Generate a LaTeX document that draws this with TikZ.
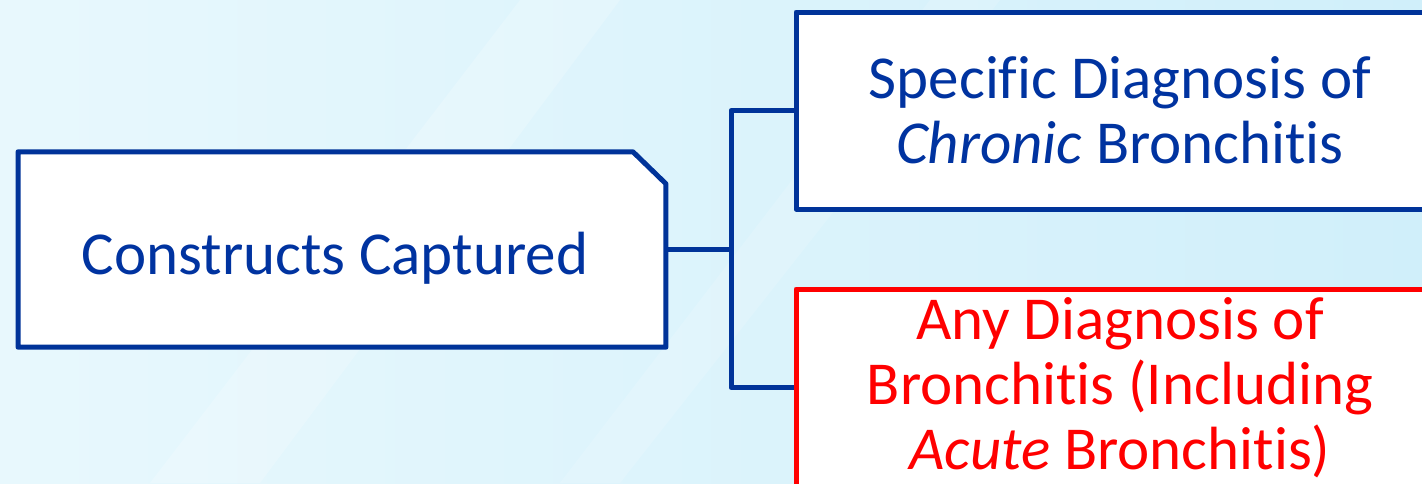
\documentclass[tikz,border=0pt]{standalone}
\usepackage{fontspec}
\setmainfont{Carlito}[RawFeature={-liga;-clig;-calt;-dlig}]
\definecolor{navy}{RGB}{0,51,153}
\definecolor{navytext}{RGB}{0,51,160}
\definecolor{bgleft}{RGB}{232,248,253}
\definecolor{bgright}{RGB}{208,239,250}
\begin{document}
\begin{tikzpicture}[x=1pt,y=-1pt,
  boxline/.style={line width=5pt, line join=round},
  bluebox/.style={draw=navy, boxline, fill=white, inner sep=0pt, minimum width=648pt, minimum height=197pt, align=center, text=navytext},
  redbox/.style={draw=red, boxline, fill=white, inner sep=0pt, minimum width=648pt, minimum height=197pt, align=center, text=red},
  conn/.style={draw=navy, line width=5pt, line join=round},
  txt/.style={font=\fontsize{61}{65}\selectfont}
]
\useasboundingbox (0,0) rectangle (1422,483);
\shade[left color=bgleft, right color=bgright] (0,0) rectangle (1422,483);
\fill[white, opacity=0.2] (150,483) -- (260,483) -- (620,0) -- (520,0) -- cycle;
\fill[white, opacity=0.15] (560,483) -- (620,483) -- (1000,0) -- (930,0) -- cycle;

\node[inner sep=0pt, minimum width=647.5pt, minimum height=195pt] (left) at (342,249.5) {};
\draw[navy, boxline, fill=white] (left.south west) -- (left.north west) -- ([xshift=-33pt]left.north east) -- ([yshift=-32pt]left.north east) -- (left.south east) -- cycle;
\node[text=navytext, txt, inner sep=0pt] (lefttxt) at (335,258) {Constructs Captured};

\node[bluebox, txt] (top) at (1120,110.5) {Specific Diagnosis of\\\textit{Chronic} Bronchitis};
\node[redbox, txt] (bot) at (1120,387.5) {Any Diagnosis of\\Bronchitis (Including\\\textit{Acute} Bronchitis)};

\coordinate (junc) at (731,249.5);
\draw[conn] (left.east) -- (junc);
\draw[conn] (top.west) -| (junc) |- (bot.west);
\end{tikzpicture}
\end{document}
